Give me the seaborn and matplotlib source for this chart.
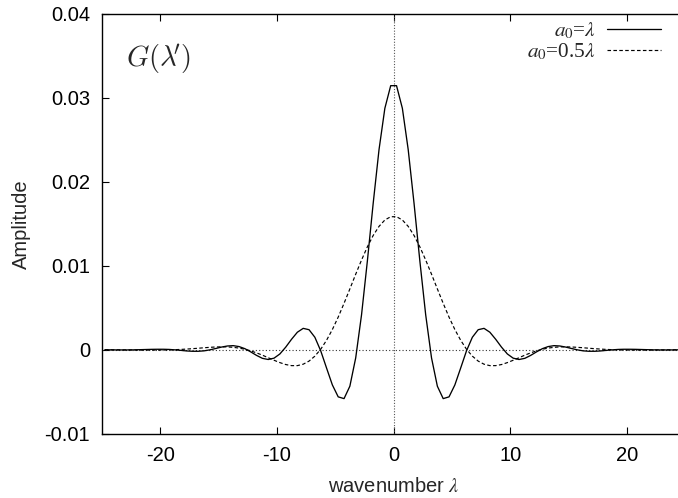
import numpy as np
import pandas as pd
import matplotlib
matplotlib.use("Agg")
import matplotlib.pyplot as plt
import seaborn as sns

# sample grid of wavenumbers (gnuplot-like sampling, step 0.5)
wavenumber = np.arange(-24.75, 24.76, 0.5)

# a0 = lambda (solid curve)
amp_full = [
    0.00000, -0.00001, -0.00002, -0.00002, -0.00002, -0.00001, 0.00001, 0.00003, 0.00005, 0.00006,
    0.00006, 0.00004, -0.00001, -0.00007, -0.00014, -0.00018, -0.00018, -0.00013, -0.00001, 0.00015,
    0.00032, 0.00045, 0.00049, 0.00038, 0.00013, -0.00025, -0.00067, -0.00102, -0.00116, -0.00100,
    -0.00050, 0.00031, 0.00125, 0.00209, 0.00255, 0.00239, 0.00149, -0.00012, -0.00217, -0.00419,
    -0.00561, -0.00582, -0.00434, -0.00097, 0.00416, 0.01057, 0.01746, 0.02385, 0.02877, 0.03146,
    0.03146, 0.02877, 0.02385, 0.01746, 0.01057, 0.00416, -0.00097, -0.00434, -0.00582, -0.00561,
    -0.00419, -0.00217, -0.00012, 0.00149, 0.00239, 0.00255, 0.00209, 0.00125, 0.00031, -0.00050,
    -0.00100, -0.00116, -0.00102, -0.00067, -0.00025, 0.00013, 0.00038, 0.00049, 0.00045, 0.00032,
    0.00015, -0.00001, -0.00013, -0.00018, -0.00018, -0.00014, -0.00007, -0.00001, 0.00004, 0.00006,
    0.00006, 0.00005, 0.00003, 0.00001, -0.00001, -0.00002, -0.00002, -0.00002, -0.00001, 0.00000,
]

# a0 = 0.5 lambda (dashed curve)
amp_half = [
    0.00000, -0.00001, -0.00001, -0.00002, -0.00002, -0.00003, -0.00004, -0.00004, -0.00004, -0.00004,
    -0.00003, -0.00002, 0.00001, 0.00004, 0.00008, 0.00013, 0.00018, 0.00024, 0.00029, 0.00033,
    0.00035, 0.00034, 0.00029, 0.00020, 0.00006, -0.00013, -0.00037, -0.00064, -0.00095, -0.00125,
    -0.00153, -0.00176, -0.00189, -0.00189, -0.00172, -0.00135, -0.00076, 0.00006, 0.00113, 0.00241,
    0.00389, 0.00553, 0.00725, 0.00900, 0.01069, 0.01226, 0.01362, 0.01470, 0.01546, 0.01585,
    0.01585, 0.01546, 0.01470, 0.01362, 0.01226, 0.01069, 0.00900, 0.00725, 0.00553, 0.00389,
    0.00241, 0.00113, 0.00006, -0.00076, -0.00135, -0.00172, -0.00189, -0.00189, -0.00176, -0.00153,
    -0.00125, -0.00095, -0.00064, -0.00037, -0.00013, 0.00006, 0.00020, 0.00029, 0.00034, 0.00035,
    0.00033, 0.00029, 0.00024, 0.00018, 0.00013, 0.00008, 0.00004, 0.00001, -0.00002, -0.00003,
    -0.00004, -0.00004, -0.00004, -0.00004, -0.00003, -0.00002, -0.00002, -0.00001, -0.00001, 0.00000,
]

series_labels = [r"$a_0$=$\lambda$", r"$a_0$=0.5$\lambda$"]
xticks = [-20, -10, 0, 10, 20]
yticks = [-0.01, 0, 0.01, 0.02, 0.03, 0.04]
ytick_labels = ["-0.01", "0", "0.01", "0.02", "0.03", "0.04"]

sns.set_theme(style="ticks", rc={"xtick.direction": "in", "ytick.direction": "in"})
plt.rcParams["font.family"] = ["Liberation Sans", "DejaVu Sans"]
plt.rcParams["mathtext.fontset"] = "stix"
plt.rcParams["axes.unicode_minus"] = False

fig = plt.figure(figsize=(6.78, 4.98), dpi=100)
ax = fig.add_axes([0.1504, 0.1291, 0.8603, 0.8428])

df_full = pd.DataFrame({"x": wavenumber, "y": amp_full})
df_half = pd.DataFrame({"x": wavenumber, "y": amp_half})

ax.axhline(0, color="#333333", lw=0.8, ls=(0, (1, 2)), zorder=1)
ax.axvline(0, color="#555555", lw=0.8, ls=(0, (1, 1.5)), zorder=1)

sns.lineplot(data=df_full, x="x", y="y", ax=ax, color="black", lw=0.95,
             label=series_labels[0], zorder=3)
sns.lineplot(data=df_half, x="x", y="y", ax=ax, color="black", lw=0.85,
             linestyle=(0, (3, 2)), label=series_labels[1], zorder=3)

ax.set_xlim(-25, 25)
ax.set_ylim(-0.01, 0.04)
ax.set_xticks(xticks)
ax.set_yticks(yticks)
ax.set_yticklabels(ytick_labels)
ax.tick_params(axis="both", direction="in", length=5, width=0.8, labelsize=14.5,
               top=True, right=True, colors="black")
ax.tick_params(axis="y", pad=8.5)
ax.tick_params(axis="x", pad=9)
for side in ["left", "bottom", "top", "right"]:
    ax.spines[side].set_visible(True)
    ax.spines[side].set_linewidth(1.0)
    ax.spines[side].set_color("black")

ax.set_xlabel(r"wavenumber $\lambda$", fontsize=14.5, labelpad=8.5)
ax.set_ylabel("Amplitude", fontsize=14.5, labelpad=10)

ax.text(-22.9, 0.0346, r"$G(\lambda\!')$", fontsize=20.5, math_fontfamily="cm",
        ha="left", va="center")

leg = ax.legend(loc="upper right", bbox_to_anchor=(0.9583, 0.984), frameon=False,
                borderpad=0, borderaxespad=0,
                markerfirst=False, handlelength=2.55, handletextpad=0.5,
                labelspacing=0.0, prop={"family": "Liberation Serif", "size": 15.3})

fig.savefig("out.png", dpi=100)
